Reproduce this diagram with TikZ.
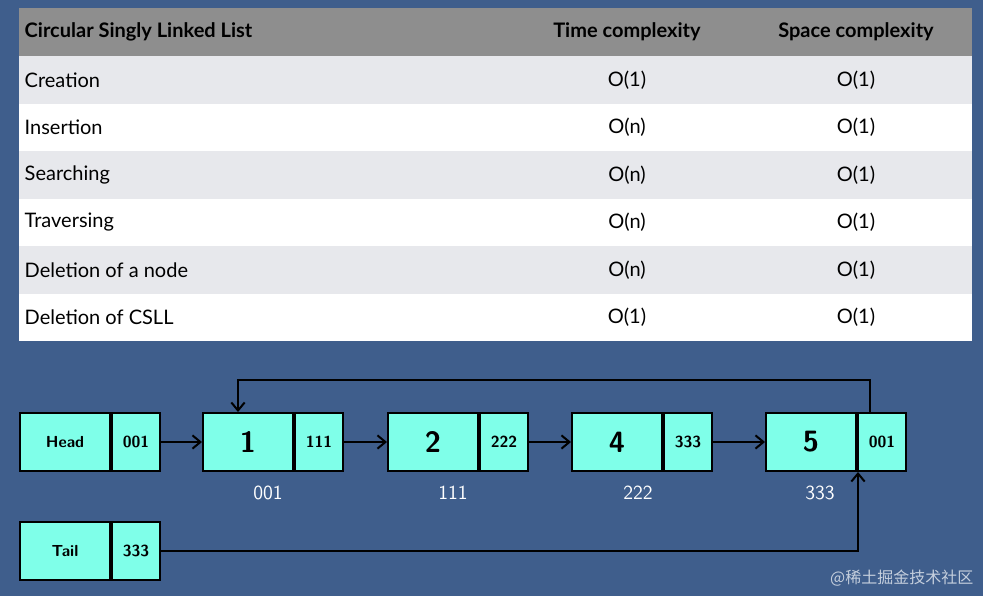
\documentclass[tikz,border=0pt]{standalone}
\usepackage{fontspec}
\setmainfont{Lato}
\newfontfamily\cjk{Noto Sans CJK SC}
\usetikzlibrary{positioning,calc,arrows.meta}
\definecolor{bgblue}{HTML}{3F5E8C}
\definecolor{hdrgrey}{HTML}{8E8E8E}
\definecolor{rowgrey}{HTML}{E7E8EC}
\definecolor{cellcyan}{HTML}{7FFFE9}
\begin{document}
\begin{tikzpicture}
[x=0.75pt,y=-0.75pt,
cell/.style={draw=black,line width=1.5pt,fill=cellcyan,minimum height=43.5pt,inner sep=0pt,font=\sffamily\bfseries},
datacell/.style={cell,minimum width=67.5pt,font=\sffamily\bfseries\fontsize{22}{22}\selectfont},
ptrcell/.style={cell,minimum width=36pt,font=\sffamily\bfseries\fontsize{12}{12}\selectfont},
namecell/.style={cell,minimum width=67.5pt,font=\sffamily\bfseries\fontsize{12}{12}\selectfont},
addr/.style={text=white,font=\sffamily\fontsize{15}{15}\selectfont},
link/.style={line width=1.5pt,-{Straight Barb[length=6pt,width=10pt]}},
rowtext/.style={font=\fontsize{15}{15}\selectfont,anchor=west}]
\useasboundingbox[fill=bgblue] (0,0) rectangle (983,596);
% table
\fill[hdrgrey] (19,8) rectangle (972,56);
\foreach \i/\c in {0/rowgrey,1/white,2/rowgrey,3/white,4/rowgrey,5/white}
  \fill[\c] (19,56+47.5*\i) rectangle (972,56+47.5*\i+47.5);
\node (hd) [rowtext,font=\bfseries\fontsize{15}{15}\selectfont] at (20,32) {Circular Singly Linked List};
\node (ht) [font=\bfseries\fontsize{15}{15}\selectfont] at (627,32) {Time complexity};
\node (hs) [font=\bfseries\fontsize{15}{15}\selectfont] at (856,32) {Space complexity};
\foreach \i/\op/\t in {0/Creation/O(1),1/Insertion/O(n),2/Searching/O(n),3/Traversing/O(n),4/Deletion of a node/O(n),5/Deletion of CSLL/O(1)}{
  \node (op\i) [rowtext] at (20,80+47.5*\i) {\op};
  \node (tc\i) [font=\fontsize{15}{15}\selectfont] at (627,80+47.5*\i) {\t};
  \node (sc\i) [font=\fontsize{15}{15}\selectfont] at (856,80+47.5*\i) {O(1)};
}
% list
\node (head) [namecell] at (65,442) {Head};
\node (headp) [ptrcell,right=0pt of head] {001};
\node (n1) [datacell] at (248,442) {1};
\node (n1p) [ptrcell,right=0pt of n1] {111};
\node (n2) [datacell] at (433,442) {2};
\node (n2p) [ptrcell,right=0pt of n2] {222};
\node (n4) [datacell] at (617,442) {4};
\node (n4p) [ptrcell,right=0pt of n4] {333};
\node (n5) [datacell] at (811,442) {5};
\node (n5p) [ptrcell,right=0pt of n5] {001};
\node (tail) [namecell] at (65,551) {Tail};
\node (tailp) [ptrcell,right=0pt of tail] {333};
\node (a1) [addr] at (268,493) {001};
\node (a2) [addr] at (453,493) {111};
\node (a3) [addr] at (638,493) {222};
\node (a4) [addr] at (820,493) {333};
\draw[link] (headp) -- (n1);
\draw[link] (n1p) -- (n2);
\draw[link] (n2p) -- (n4);
\draw[link] (n4p) -- (n5);
\draw[link] (n5p.north -| 870,0) |- (238,380) -- (n1.north -| 238,0);
\draw[link] (tailp) -| (n5p.south -| 858,0);
\node (wm) [anchor=east,text=white!70!bgblue,font=\cjk\fontsize{12}{12}\selectfont] at (978,578) {@稀土掘金技术社区};
\end{tikzpicture}
\end{document}
